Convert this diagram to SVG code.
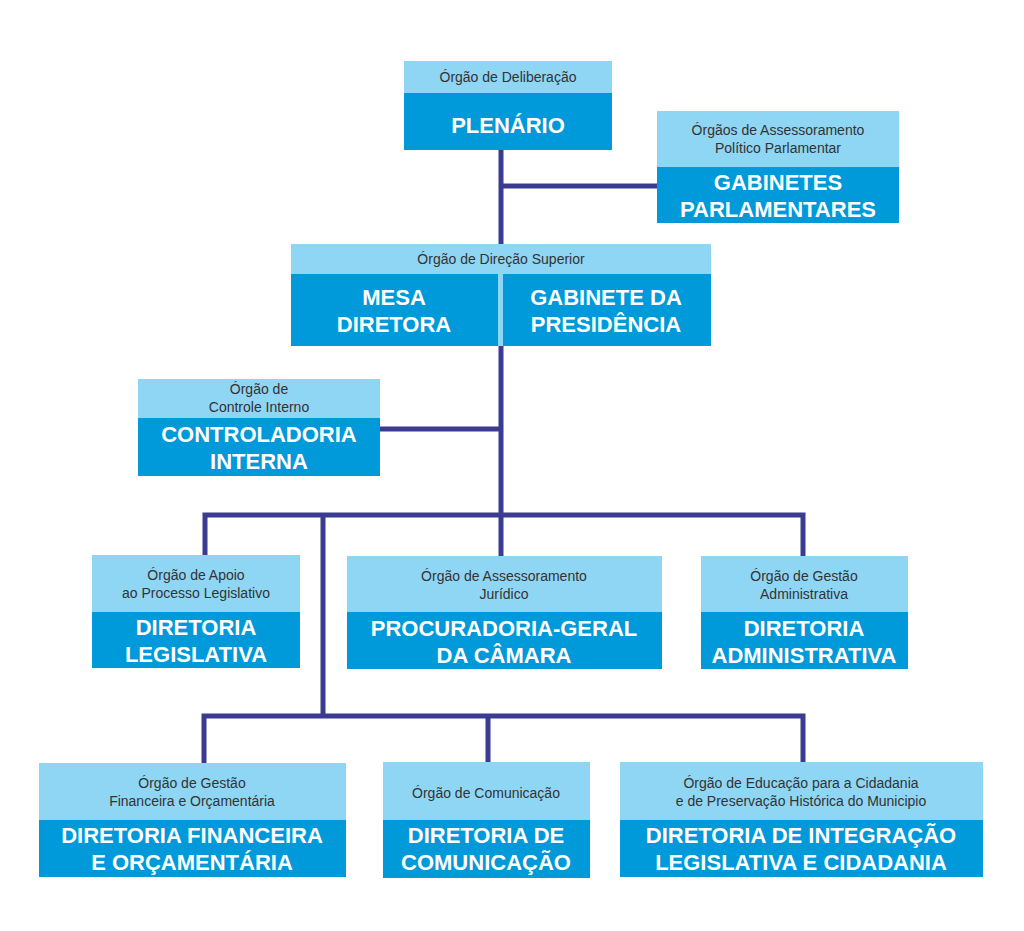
<svg xmlns="http://www.w3.org/2000/svg" width="1024" height="931" viewBox="0 0 1024 931">
<style>
.l{fill:#8fd5f4}.d{fill:#0099d9}
.s{font-family:"Liberation Sans",Arial,sans-serif;font-size:14px;fill:#333;text-anchor:middle}
.b{font-family:"Liberation Sans",Arial,sans-serif;font-size:22px;font-weight:bold;fill:#fff;text-anchor:middle}
#connectors path{stroke:#3b3b92;stroke-width:5;fill:none}
</style>
<rect width="1024" height="931" fill="#fff"/>
<g id="connectors">
<path d="M501 150V556M501 186H657M380 429H501M205 555V515H803V556M323 515V716M204 763V716H803V762M488 716V762"/>
</g>
<g id="plenario"><rect class="l" x="404" y="61" width="208" height="32"/><rect class="d" x="404" y="93" width="208" height="57"/>
<text class="s" x="508" y="82">Órgão de Deliberação</text><text class="b" x="508" y="133">PLENÁRIO</text></g>
<g id="gabinetes"><rect class="l" x="657" y="111" width="242" height="56"/><rect class="d" x="657" y="167" width="242" height="56"/>
<text class="s" x="778" y="135">Órgãos de Assessoramento</text><text class="s" x="778" y="153">Político Parlamentar</text>
<text class="b" x="778" y="190">GABINETES</text><text class="b" x="778" y="217">PARLAMENTARES</text></g>
<g id="direcao"><rect class="l" x="291" y="244" width="420" height="30"/><rect class="d" x="291" y="274" width="420" height="72"/>
<rect class="l" x="498" y="274" width="5" height="72"/>
<text class="s" x="501" y="264">Órgão de Direção Superior</text>
<text class="b" x="394" y="305">MESA</text><text class="b" x="394" y="332">DIRETORA</text>
<text class="b" x="606" y="305">GABINETE DA</text><text class="b" x="606" y="332">PRESIDÊNCIA</text></g>
<g id="controladoria"><rect class="l" x="138" y="379" width="242" height="39"/><rect class="d" x="138" y="418" width="242" height="58"/>
<text class="s" x="259" y="394">Órgão de</text><text class="s" x="259" y="412">Controle Interno</text>
<text class="b" x="259" y="442">CONTROLADORIA</text><text class="b" x="259" y="469">INTERNA</text></g>
<g id="legislativa"><rect class="l" x="92" y="555" width="208" height="57"/><rect class="d" x="92" y="612" width="208" height="56"/>
<text class="s" x="196" y="580">Órgão de Apoio</text><text class="s" x="196" y="598">ao Processo Legislativo</text>
<text class="b" x="196" y="635">DIRETORIA</text><text class="b" x="196" y="662">LEGISLATIVA</text></g>
<g id="procuradoria"><rect class="l" x="347" y="556" width="315" height="56"/><rect class="d" x="347" y="612" width="315" height="57"/>
<text class="s" x="504" y="581">Órgão de Assessoramento</text><text class="s" x="504" y="599">Jurídico</text>
<text class="b" x="504" y="636">PROCURADORIA-GERAL</text><text class="b" x="504" y="663">DA CÂMARA</text></g>
<g id="administrativa"><rect class="l" x="701" y="556" width="207" height="56"/><rect class="d" x="701" y="612" width="207" height="57"/>
<text class="s" x="804" y="581">Órgão de Gestão</text><text class="s" x="804" y="599">Administrativa</text>
<text class="b" x="804" y="636">DIRETORIA</text><text class="b" x="804" y="663">ADMINISTRATIVA</text></g>
<g id="financeira"><rect class="l" x="39" y="763" width="307" height="57"/><rect class="d" x="39" y="820" width="307" height="57"/>
<text class="s" x="192" y="788">Órgão de Gestão</text><text class="s" x="192" y="806">Financeira e Orçamentária</text>
<text class="b" x="192" y="843">DIRETORIA FINANCEIRA</text><text class="b" x="192" y="870">E ORÇAMENTÁRIA</text></g>
<g id="comunicacao"><rect class="l" x="383" y="762" width="207" height="58"/><rect class="d" x="383" y="820" width="207" height="58"/>
<text class="s" x="486" y="798">Órgão de Comunicação</text>
<text class="b" x="486" y="843">DIRETORIA DE</text><text class="b" x="486" y="870">COMUNICAÇÃO</text></g>
<g id="integracao"><rect class="l" x="620" y="762" width="363" height="58"/><rect class="d" x="620" y="820" width="363" height="57"/>
<text class="s" x="801" y="788">Órgão de Educação para a Cidadania</text><text class="s" x="801" y="806">e de Preservação Histórica do Municipio</text>
<text class="b" x="801" y="843">DIRETORIA DE INTEGRAÇÃO</text><text class="b" x="801" y="870">LEGISLATIVA E CIDADANIA</text></g>
</svg>
